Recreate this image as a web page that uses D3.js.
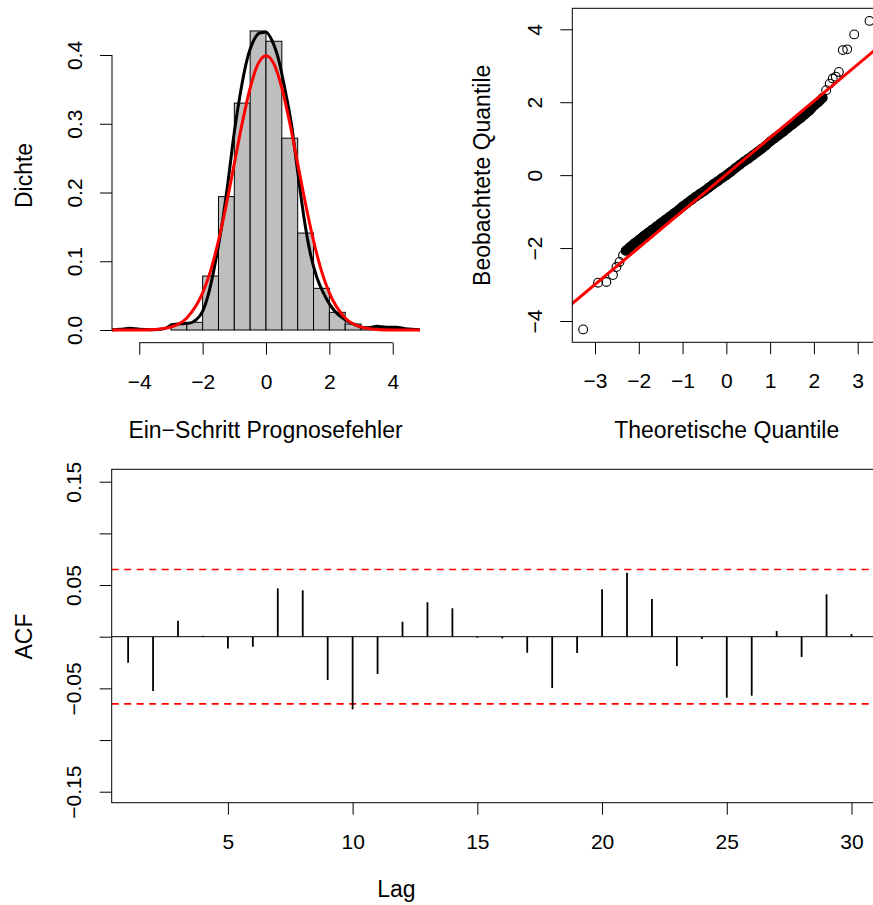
<!DOCTYPE html>
<html>
<head>
<meta charset="utf-8">
<script src="https://cdnjs.cloudflare.com/ajax/libs/d3/7.8.5/d3.min.js"></script>
<style>
  body { margin: 0; background: #fff; }
  svg text { font-family: "Liberation Sans", Arial, sans-serif; fill: #000; }
</style>
</head>
<body>
<svg id="chart" width="873" height="905"></svg>
<script>
// ---- data ----
// histogram of the one-step forecast errors (density scale)
const HIST_BREAKS = [-4.5, -4, -3.5, -3, -2.5, -2, -1.5, -1, -0.5, 0, 0.5, 1, 1.5, 2, 2.5, 3, 3.5, 4, 4.5]
const HIST_DENSITY = [0.0022, 0, 0, 0.0088, 0.0112, 0.0785, 0.194, 0.330, 0.435, 0.420,
                      0.279, 0.141, 0.0606, 0.0257, 0.0087, 0.0044, 0.0022, 0.0022]

// kernel density (black)
const DENS_X = [-4.86, -4.6, -4.3, -4.0, -3.6, -3.2, -3.0, -2.7, -2.4, -2.2, -2.0, -1.8, -1.6, -1.4,
                -1.2, -1.0, -0.8, -0.6, -0.4, -0.2, 0.0, 0.2, 0.4, 0.6, 0.8, 1.0, 1.2, 1.4, 1.6,
                1.8, 2.0, 2.2, 2.4, 2.6, 2.8, 3.0, 3.2, 3.5, 3.8, 4.1, 4.4, 4.86]
const DENS_Y = [0.000, 0.001, 0.0025, 0.001, 0.0003, 0.002, 0.007, 0.009, 0.010, 0.015, 0.027, 0.055,
                0.098, 0.150, 0.215, 0.288, 0.347, 0.393, 0.420, 0.432, 0.433, 0.420, 0.393, 0.350,
                0.300, 0.230, 0.163, 0.111, 0.077, 0.055, 0.038, 0.026, 0.018, 0.012, 0.008, 0.004,
                0.003, 0.0055, 0.004, 0.004, 0.002, 0.0003]

// normal density (red)
const NORM_X = [-4.86, -4.5, -4, -3.5, -3, -2.5, -2, -1.75, -1.5, -1.25, -1, -0.75, -0.5, -0.25, 0,
                0.25, 0.5, 0.75, 1, 1.25, 1.5, 1.75, 2, 2.5, 3, 3.5, 4, 4.5, 4.86]
const NORM_Y = [0, 0, 0.0001, 0.0009, 0.0044, 0.0175, 0.054, 0.086, 0.130, 0.183, 0.242, 0.301, 0.352,
                0.387, 0.399, 0.387, 0.352, 0.301, 0.242, 0.183, 0.130, 0.086, 0.054, 0.0175, 0.0044,
                0.0009, 0.0001, 0, 0]

// normal QQ plot: dense middle part
const QQ_MID_THEO = [-2.3, -2.2, -2.1, -2.0, -1.9, -1.8, -1.7, -1.6, -1.5, -1.4, -1.3, -1.2, -1.1, -1.0,
                     -0.9, -0.8, -0.7, -0.6, -0.5, -0.4, -0.3, -0.2, -0.1, 0.0, 0.1, 0.2, 0.3, 0.4, 0.5,
                     0.6, 0.7, 0.8, 0.9, 1.0, 1.1, 1.2, 1.3, 1.4, 1.5, 1.6, 1.7, 1.8, 1.9, 2.0, 2.1, 2.2]
const QQ_MID_OBS = [-2.07, -1.97, -1.87, -1.78, -1.68, -1.59, -1.50, -1.41, -1.32, -1.23, -1.14, -1.05,
                    -0.96, -0.86, -0.77, -0.68, -0.59, -0.51, -0.43, -0.34, -0.25, -0.17, -0.08, 0.00,
                    0.09, 0.19, 0.28, 0.37, 0.45, 0.54, 0.63, 0.72, 0.81, 0.92, 1.01, 1.10, 1.19, 1.29,
                    1.38, 1.48, 1.57, 1.67, 1.77, 1.90, 2.00, 2.12]
// QQ plot: single points in the tails
const QQ_TAIL_THEO = [-3.27, -2.93, -2.74, -2.59, -2.51, -2.44, -2.36, 2.28, 2.36, 2.43, 2.50, 2.57, 2.66, 2.76, 2.92, 3.27]
const QQ_TAIL_OBS  = [-4.23, -2.95, -2.93, -2.74, -2.52, -2.38, -2.20, 2.33, 2.51, 2.65, 2.70, 2.83, 3.43, 3.45, 3.86, 4.23]
// qqline (red), two points on it
const QQ_LINE_THEO = [-3.6, 3.6]
const QQ_LINE_OBS = [-3.6, 3.64]

// autocorrelation of the residuals
const ACF_LAGS = [1, 2, 3, 4, 5, 6, 7, 8, 9, 10, 11, 12, 13, 14, 15, 16, 17, 18, 19, 20, 21, 22, 23, 24, 25, 26, 27, 28, 29, 30]
const ACF_VALUES = [-0.0252, -0.0525, 0.0155, 0.001, -0.0113, -0.0097, 0.0468, 0.0449, -0.0419, -0.0703,
                    -0.0361, 0.0145, 0.0333, 0.0275, -0.001, -0.0016, -0.0155, -0.0497, -0.0158, 0.0458,
                    0.0619, 0.0365, -0.0284, -0.0022, -0.059, -0.0571, 0.0055, -0.0196, 0.041, 0.0026]
const ACF_CI = [0.065, -0.065]

// tick values
const HIST_X_TICKS = [-4, -2, 0, 2, 4]
const HIST_Y_TICKS = [0, 0.1, 0.2, 0.3, 0.4]
const QQ_X_TICKS = [-3, -2, -1, 0, 1, 2, 3]
const QQ_Y_TICKS = [-4, -2, 0, 2, 4]
const ACF_X_TICKS = [5, 10, 15, 20, 25, 30]
const ACF_Y_TICKS = [-0.15, -0.1, -0.05, 0, 0.05, 0.1, 0.15]
const ACF_Y_LABELED = [-0.15, -0.05, 0.05, 0.15]

// ---- drawing ----
const FONT_TICK = 21
const FONT_TITLE = 23
const svg = d3.select('#chart')

function styleAxis(g){
    g.attr('font-family', '"Liberation Sans", Arial, sans-serif').attr('font-size', FONT_TICK)
    g.select('.domain').remove()
    g.selectAll('.tick line').attr('stroke', '#000').attr('stroke-width', 1)
    g.selectAll('.tick text').attr('fill', '#000')
}

function bottomAxis(scale, ticks, fmt, y){
    const g = svg.append('g').attr('transform', `translate(0,${y})`)
        .call(d3.axisBottom(scale).tickValues(ticks).tickFormat(fmt).tickSize(12).tickSizeOuter(0))
    styleAxis(g)
    g.selectAll('.tick text').attr('y', 46).attr('dy', null)
    return g
}

function leftAxis(scale, ticks, fmt, x){
    const g = svg.append('g').attr('transform', `translate(${x},0)`)
        .call(d3.axisLeft(scale).tickValues(ticks).tickFormat(fmt).tickSize(12).tickSizeOuter(0))
    styleAxis(g)
    g.selectAll('.tick text')
        .attr('transform', 'rotate(-90)')
        .attr('x', 0).attr('y', -30.5).attr('dy', null)
        .attr('text-anchor', 'middle')
    return g
}

function title(text, x, y, rotate){
    svg.append('text')
        .attr('transform', rotate ? `translate(${x},${y}) rotate(-90)` : `translate(${x},${y})`)
        .attr('text-anchor', 'middle')
        .attr('font-size', FONT_TITLE)
        .text(text)
}

function clip(id, x0, y0, x1, y1){
    svg.append('clipPath').attr('id', id)
        .append('rect').attr('x', x0).attr('y', y0).attr('width', x1 - x0).attr('height', y1 - y0)
}

// ===== histogram panel =====
const H = { left: 112, right: 420, top: 8.3, bottom: 342.7 }
const hx = d3.scaleLinear().domain([-4.86, 4.86]).range([H.left, H.right])
const hy = d3.scaleLinear().domain([0, 0.4]).range([330, 55])
clip('clip-hist', H.left, H.top, H.right, H.bottom)

const bins = HIST_DENSITY.map((d, i) => ({ x0: HIST_BREAKS[i], x1: HIST_BREAKS[i + 1], d: d }))
svg.append('g').attr('clip-path', 'url(#clip-hist)')
    .selectAll('rect').data(bins).join('rect')
    .attr('x', b => hx(b.x0)).attr('width', b => hx(b.x1) - hx(b.x0))
    .attr('y', b => hy(b.d)).attr('height', b => hy(0) - hy(b.d))
    .attr('fill', '#BEBEBE').attr('stroke', '#000').attr('stroke-width', 1)

const densLine = d3.line().x(d => hx(d[0])).y(d => hy(d[1])).curve(d3.curveMonotoneX)
svg.append('path').attr('clip-path', 'url(#clip-hist)')
    .datum(DENS_X.map((x, i) => [x, DENS_Y[i]]))
    .attr('d', densLine).attr('fill', 'none').attr('stroke', '#000').attr('stroke-width', 3)
svg.append('path').attr('clip-path', 'url(#clip-hist)')
    .datum(NORM_X.map((x, i) => [x, NORM_Y[i]]))
    .attr('d', densLine).attr('fill', 'none').attr('stroke', '#FF0000').attr('stroke-width', 3)

bottomAxis(hx, HIST_X_TICKS, d3.format('d'), H.bottom)
svg.append('line').attr('x1', hx(HIST_X_TICKS[0])).attr('x2', hx(HIST_X_TICKS[HIST_X_TICKS.length - 1]))
    .attr('y1', H.bottom).attr('y2', H.bottom).attr('stroke', '#000')
leftAxis(hy, HIST_Y_TICKS, d3.format('.1f'), H.left)
svg.append('line').attr('x1', H.left).attr('x2', H.left)
    .attr('y1', hy(HIST_Y_TICKS[0])).attr('y2', hy(HIST_Y_TICKS[HIST_Y_TICKS.length - 1])).attr('stroke', '#000')

title('Ein\u2212Schritt Prognosefehler', 265.5, 437.5)
title('Dichte', 31.5, 175.5, true)

// ===== QQ panel =====
const Q = { left: 572.3, right: 881, top: 8.3, bottom: 342.3 }
const qx = d3.scaleLinear().domain([-3, 3]).range([595, 857.7])
const qy = d3.scaleLinear().domain([-4, 4]).range([321, 29.3])
clip('clip-qq', Q.left, Q.top, Q.right, Q.bottom)

const qqG = svg.append('g').attr('clip-path', 'url(#clip-qq)')
const midPts = QQ_MID_THEO.map((t, i) => [t, QQ_MID_OBS[i]])
const tailPts = QQ_TAIL_THEO.map((t, i) => [t, QQ_TAIL_OBS[i]])
// the dense run of overlapping circles reads as one solid band
qqG.append('path').datum(midPts)
    .attr('d', d3.line().x(d => qx(d[0])).y(d => qy(d[1])).curve(d3.curveMonotoneX))
    .attr('fill', 'none').attr('stroke', '#000').attr('stroke-width', 9.6).attr('stroke-linecap', 'round')
qqG.selectAll('circle').data(midPts.concat(tailPts)).join('circle')
    .attr('cx', d => qx(d[0])).attr('cy', d => qy(d[1])).attr('r', 4.4)
    .attr('fill', 'none').attr('stroke', '#000').attr('stroke-width', 1.1)
qqG.append('line')
    .attr('x1', qx(QQ_LINE_THEO[0])).attr('y1', qy(QQ_LINE_OBS[0]))
    .attr('x2', qx(QQ_LINE_THEO[1])).attr('y2', qy(QQ_LINE_OBS[1]))
    .attr('stroke', '#FF0000').attr('stroke-width', 3)

svg.append('rect').attr('x', Q.left).attr('y', Q.top)
    .attr('width', Q.right - Q.left).attr('height', Q.bottom - Q.top)
    .attr('fill', 'none').attr('stroke', '#000').attr('stroke-width', 1)
bottomAxis(qx, QQ_X_TICKS, d3.format('d'), Q.bottom)
leftAxis(qy, QQ_Y_TICKS, d3.format('d'), Q.left)
title('Theoretische Quantile', 726.7, 437.5)
title('Beobachtete Quantile', 490, 175.3, true)

// ===== ACF panel =====
const A = { left: 111.7, right: 890, top: 469.3, bottom: 802.7 }
const ax = d3.scaleLinear().domain([5, 30]).range([227.9, 851.5])
const ay = d3.scaleLinear().domain([-0.15, 0.15]).range([791.7, 481.7])
clip('clip-acf', A.left, A.top, A.right, A.bottom)

const acfG = svg.append('g').attr('clip-path', 'url(#clip-acf)')
acfG.append('line').attr('x1', A.left).attr('x2', A.right)
    .attr('y1', ay(0)).attr('y2', ay(0)).attr('stroke', '#000').attr('stroke-width', 1)
acfG.selectAll('line.ci').data(ACF_CI).join('line').attr('class', 'ci')
    .attr('x1', A.left).attr('x2', A.right)
    .attr('y1', d => ay(d)).attr('y2', d => ay(d))
    .attr('stroke', '#FF0000').attr('stroke-width', 1.6).attr('stroke-dasharray', '7,5.5')
acfG.selectAll('line.spike').data(ACF_VALUES).join('line').attr('class', 'spike')
    .attr('x1', (d, i) => ax(ACF_LAGS[i])).attr('x2', (d, i) => ax(ACF_LAGS[i]))
    .attr('y1', ay(0)).attr('y2', d => ay(d))
    .attr('stroke', '#000').attr('stroke-width', 1.8)

svg.append('rect').attr('x', A.left).attr('y', A.top)
    .attr('width', A.right - A.left).attr('height', A.bottom - A.top)
    .attr('fill', 'none').attr('stroke', '#000').attr('stroke-width', 1)
bottomAxis(ax, ACF_X_TICKS, d3.format('d'), A.bottom)
const fmtAcf = d3.format('.2f')
leftAxis(ay, ACF_Y_TICKS, d => ACF_Y_LABELED.includes(d) ? fmtAcf(d) : '', A.left)
title('Lag', 396.4, 897)
title('ACF', 31.5, 636.5, true)
</script>
</body>
</html>
